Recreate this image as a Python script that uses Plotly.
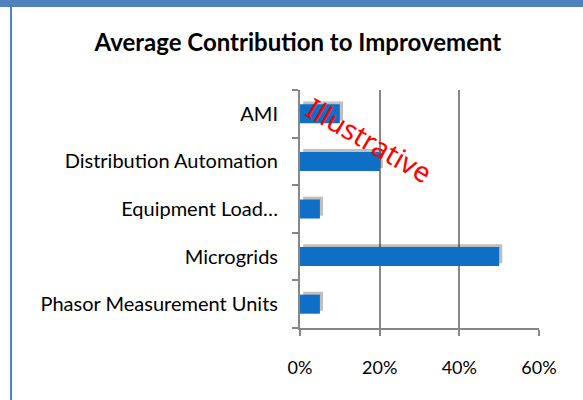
import plotly.graph_objects as go

categories = ["AMI", "Distribution Automation", "Equipment Load…", "Microgrids", "Phasor Measurement Units"]
values = [0.10, 0.20, 0.05, 0.50, 0.05]
tick_vals = [0, 0.2, 0.4, 0.6]
tick_text = ["0%", "20%", "40%", "60%"]

FONT = "Lato"

fig = go.Figure()
# soft drop shadow behind the bars
fig.add_trace(go.Bar(
    y=categories, x=values, base=0.008, orientation="h",
    marker=dict(color="rgba(0,0,0,0.25)", line=dict(width=0)),
    offset=-0.14, width=0.4, hoverinfo="skip", showlegend=False,
))
fig.add_trace(go.Bar(
    y=categories, x=values, orientation="h",
    marker=dict(color="#0F6FC6", line=dict(width=0)),
    offset=-0.2, width=0.4, showlegend=False,
))

fig.update_layout(
    width=583, height=400,
    margin=dict(l=300, r=44, t=90, b=72),
    paper_bgcolor="white", plot_bgcolor="white",
    barmode="overlay",
    font=dict(family=FONT, size=20, color="black"),
    title=dict(text="<b>Average Contribution to Improvement</b>",
               x=0.511, xanchor="center", y=0.893, yanchor="middle",
               font=dict(family=FONT, size=24, color="black")),
)
fig.update_xaxes(
    range=[0, 0.6], tickvals=tick_vals, ticktext=tick_text,
    showgrid=True, gridcolor="#878787", gridwidth=2,
    showline=True, linecolor="#878787", linewidth=2,
    ticks="outside", ticklen=6, tickwidth=2, tickcolor="#878787",
    ticklabelstandoff=16, zeroline=False,
    tickfont=dict(size=18),
)
fig.update_yaxes(
    categoryorder="array", categoryarray=categories[::-1],
    showgrid=False, showline=True, linecolor="#878787", linewidth=2,
    ticks="outside", ticklen=6, tickwidth=2, tickcolor="#878787",
    tickson="boundaries", ticklabelstandoff=16,
    tickfont=dict(size=20),
)

# frame pieces: blue band on top, thin blue line on the left
fig.add_shape(type="rect", xref="paper", yref="paper",
              x0=-1.3, x1=1.2, y0=1.349, y1=1.4,
              fillcolor="#4F81BD", line=dict(width=0), layer="above")
fig.add_shape(type="line", xref="paper", yref="paper",
              x0=-1.209, x1=-1.209, y0=-0.35, y1=1.349,
              line=dict(color="#4F81BD", width=2), layer="above")

fig.add_annotation(text="Illustrative", xref="x", yref="paper",
                   x=0.175, y=0.79, xanchor="center", yanchor="middle",
                   showarrow=False, textangle=30,
                   font=dict(family="Noto Sans", size=28, color="red"))

fig.write_html("out.html", config={"displayModeBar": False},
               post_script="document.body.style.margin='0';")
